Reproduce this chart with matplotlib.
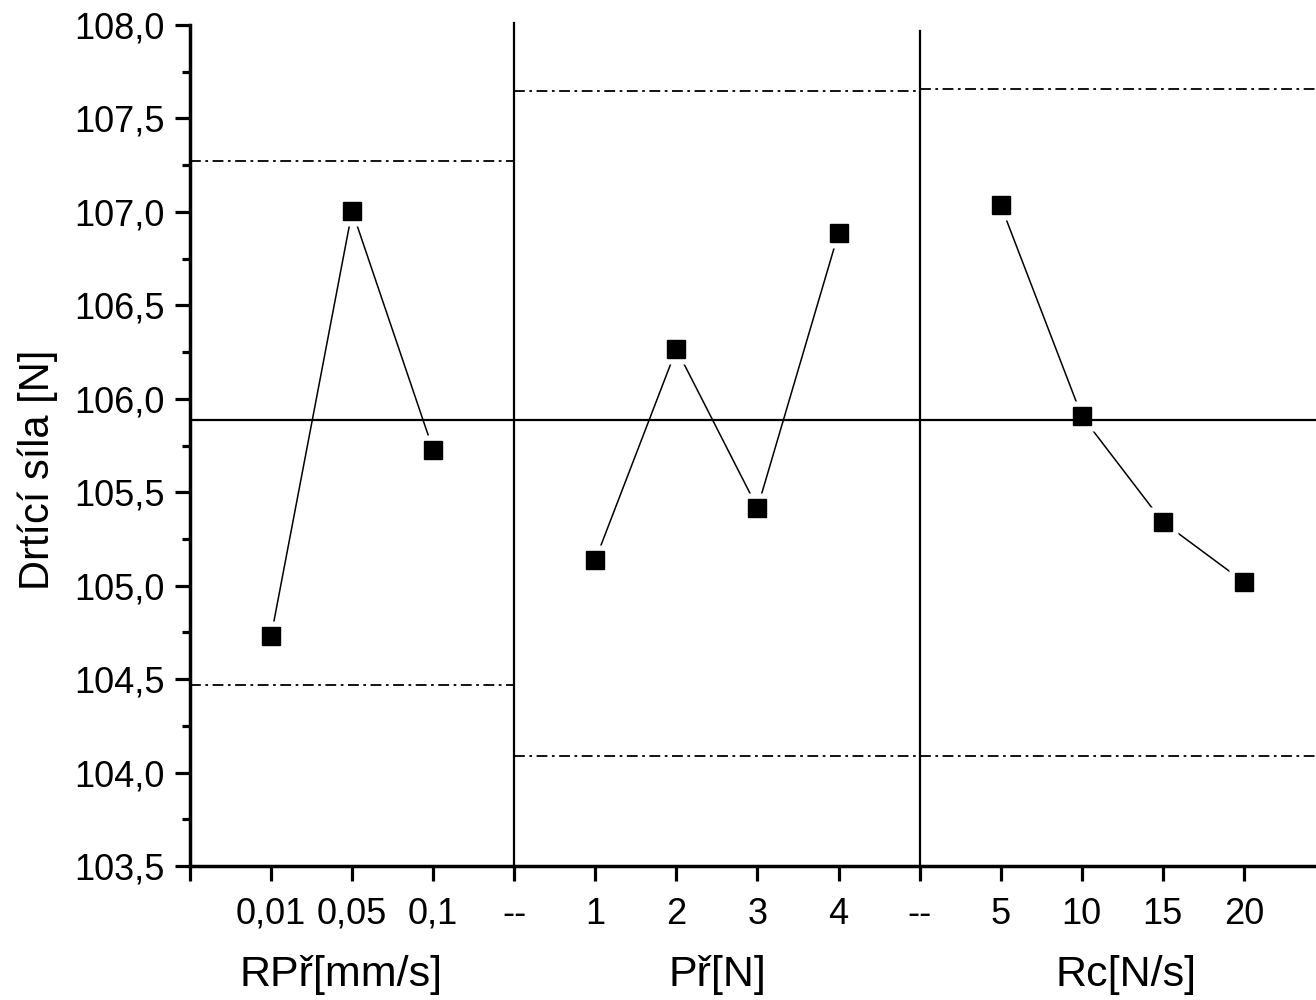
import matplotlib
matplotlib.use("Agg")
import matplotlib.pyplot as plt
from matplotlib.ticker import FuncFormatter, MultipleLocator

plt.rcParams["font.family"] = ["Liberation Sans", "DejaVu Sans"]

# category positions on the shared x axis
tick_pos = list(range(0, 14))
tick_labels = ["", "0,01", "0,05", "0,1", "--", "1", "2", "3", "4", "--", "5", "10", "15", "20"]

# factor groups: positions and mean crushing force
rp_pos = [1, 2, 3]
rp_vals = [104.73, 107.005, 105.726]
pr_pos = [5, 6, 7, 8]
pr_vals = [105.138, 106.266, 105.416, 106.887]
rc_pos = [10, 11, 12, 13]
rc_vals = [107.037, 105.908, 105.341, 105.02]

group_names = ["RPř[mm/s]", "Př[N]", "Rc[N/s]"]
group_centers = [1.86, 6.5, 11.55]

grand_mean = 105.888
# dash-dot limits per group: (x start, x end, upper, lower)
lim_x0 = [0, 4, 9]
lim_x1 = [4, 9, 13.9]
lim_up = [107.272, 107.645, 107.655]
lim_lo = [104.469, 104.089, 104.089]

sep_x = [4, 9]
sep_top = [108.01, 107.97]

fig = plt.figure(figsize=(13.16, 10), dpi=100)
ax = fig.add_axes([0.1444, 0.134, 0.8556, 0.841])

ax.set_xlim(0, 13.89)
ax.set_ylim(103.5, 108.0)

# grand mean and decision limits
ax.plot([0, 13.89], [grand_mean, grand_mean], color="black", lw=1.6, zorder=4)
for x0, x1, up, lo in zip(lim_x0, lim_x1, lim_up, lim_lo):
    ax.plot([x0, x1], [up, up], color="black", lw=1.3, ls=(0, (6, 2.5, 1.5, 2.5)), zorder=2)
    ax.plot([x0, x1], [lo, lo], color="black", lw=1.3, ls=(0, (6, 2.5, 1.5, 2.5)), zorder=2)

for x, top in zip(sep_x, sep_top):
    ax.plot([x, x], [103.5, top], color="black", lw=1.6, clip_on=False, zorder=4)

# series: thin line, white halo to leave a gap, black square marker
for xs, ys in [(rp_pos, rp_vals), (pr_pos, pr_vals), (rc_pos, rc_vals)]:
    ax.plot(xs, ys, color="black", lw=1.1, zorder=2)
    ax.plot(xs, ys, ls="none", marker="s", ms=22, mfc="white", mec="none", zorder=3)
    ax.plot(xs, ys, ls="none", marker="s", ms=13, mfc="black", mec="black", zorder=5)

ax.spines["top"].set_visible(False)
ax.spines["right"].set_visible(False)
for s in ("left", "bottom"):
    ax.spines[s].set_linewidth(2.5)
    ax.spines[s].set_zorder(6)

ax.set_xticks(tick_pos)
ax.set_xticklabels(tick_labels)
ax.yaxis.set_major_locator(MultipleLocator(0.5))
ax.yaxis.set_minor_locator(MultipleLocator(0.25))
ax.yaxis.set_major_formatter(FuncFormatter(lambda v, p: f"{v:.1f}".replace(".", ",")))
ax.tick_params(axis="both", which="major", direction="out", length=11, width=2.3,
               labelsize=26, pad=7)
ax.tick_params(axis="x", which="major", pad=11)
ax.tick_params(axis="y", which="minor", direction="out", length=5.5, width=2.3)

ax.set_ylabel("Drtící síla [N]", fontsize=30)
ax.yaxis.set_label_coords(-0.117, 0.471)

for name, cx in zip(group_names, group_centers):
    ax.text(cx, -0.13, name, transform=ax.get_xaxis_transform(), ha="center", va="center",
            fontsize=31)

fig.savefig("out.png", dpi=100)
